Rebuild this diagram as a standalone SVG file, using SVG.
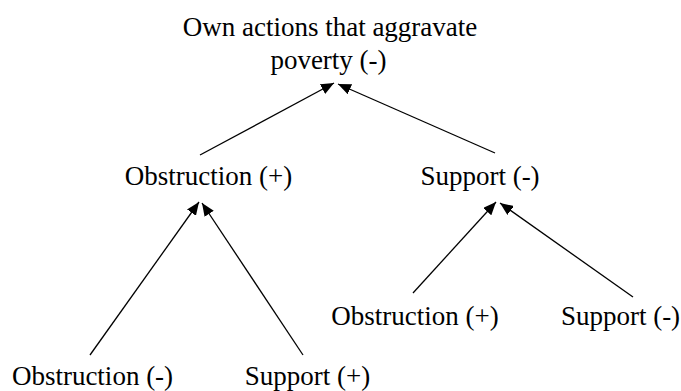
<svg xmlns="http://www.w3.org/2000/svg" width="681" height="391" viewBox="0 0 681 391">
<defs>
<style>
text{font-family:"Liberation Serif","Times New Roman",serif;font-size:27px;fill:#000;text-anchor:middle}
.c line{stroke:#000;stroke-width:1.3;marker-end:url(#ah)}
</style>
<marker id="ah" markerUnits="userSpaceOnUse" markerWidth="14" markerHeight="11" refX="13" refY="5.5" orient="auto" viewBox="0 0 14 11">
<path d="M0,0 L13,5.5 L0,11 z" fill="#000"/>
</marker>
</defs>
<rect width="681" height="391" fill="#fff"/>
<g id="root">
<text x="330" y="36">Own actions that aggravate</text>
<text x="328.5" y="69">poverty (-)</text>
</g>
<g id="obstruction-mid">
<text x="208.5" y="185">Obstruction (+)</text>
</g>
<g id="support-mid">
<text x="480" y="185">Support (-)</text>
</g>
<g id="obstruction-bl">
<text x="92.5" y="385">Obstruction (-)</text>
</g>
<g id="support-bl">
<text x="307.5" y="385">Support (+)</text>
</g>
<g id="obstruction-br">
<text x="415" y="325">Obstruction (+)</text>
</g>
<g id="support-br">
<text x="620.5" y="325">Support (-)</text>
</g>
<g class="c" id="connectors">
<line x1="200" y1="155" x2="334" y2="83"/>
<line x1="495" y1="153" x2="338" y2="84"/>
<line x1="90" y1="355" x2="199" y2="202"/>
<line x1="303" y1="355" x2="202" y2="203"/>
<line x1="413" y1="293" x2="496" y2="202"/>
<line x1="633" y1="297" x2="500" y2="203"/>
</g>
</svg>
